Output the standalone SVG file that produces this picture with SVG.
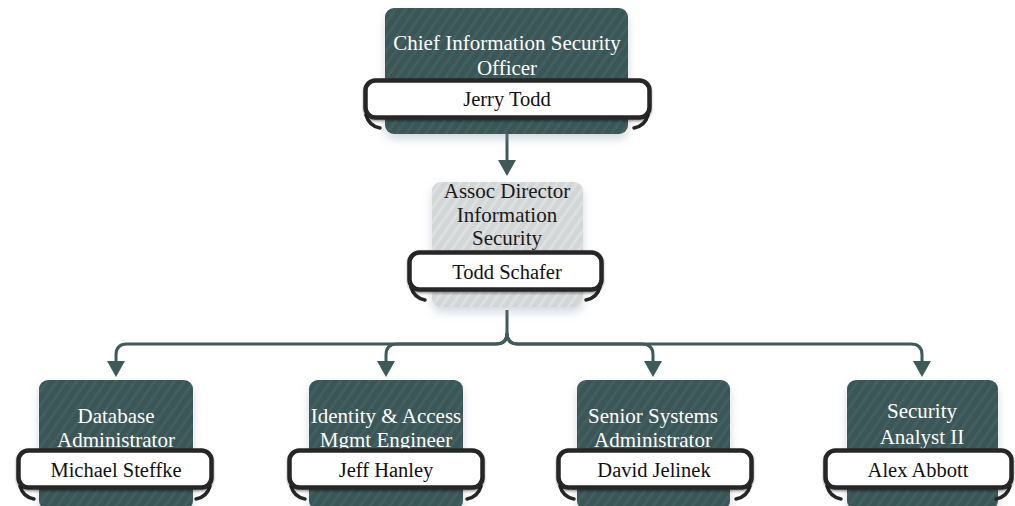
<svg xmlns="http://www.w3.org/2000/svg" width="1015" height="506" viewBox="0 0 1015 506" font-family="'Liberation Serif', 'DejaVu Serif', serif">
<defs>
  <pattern id="hatchDark" patternUnits="userSpaceOnUse" width="8" height="8" patternTransform="rotate(35)">
    <rect width="8" height="8" fill="#3a5656"/>
    <rect width="3" height="8" fill="#425e5e"/>
  </pattern>
  <pattern id="hatchLight" patternUnits="userSpaceOnUse" width="8" height="8" patternTransform="rotate(35)">
    <rect width="8" height="8" fill="#d2d6d6"/>
    <rect width="3" height="8" fill="#dde0e0"/>
  </pattern>
  <filter id="shadow" x="-20%" y="-20%" width="140%" height="150%">
    <feDropShadow dx="0" dy="5" stdDeviation="5" flood-color="#7f8fa6" flood-opacity="0.35"/>
  </filter>
  <filter id="barShadow" x="-5%" y="-20%" width="110%" height="160%">
    <feDropShadow dx="0" dy="1.5" stdDeviation="1.2" flood-color="#000" flood-opacity="0.4"/>
  </filter>
  <marker id="arrow" markerUnits="userSpaceOnUse" viewBox="0 0 16 18" markerWidth="16" markerHeight="18" refX="0" refY="9" orient="auto">
    <path d="M0,0 L16,9 L0,18 z" fill="#3e5a5a"/>
  </marker>
</defs>
<style>
  .box { fill: url(#hatchDark); filter: url(#shadow); }
  .boxLight { fill: url(#hatchLight); filter: url(#shadow); }
  .bar { fill: #ffffff; stroke: #262626; stroke-width: 4.5; filter: url(#barShadow); }
  .curl { fill: none; stroke: #262626; stroke-width: 3.5; stroke-linecap: round; }
  .title { font-family: 'Liberation Serif', 'DejaVu Serif', serif; font-size: 21px; fill: #ffffff; text-anchor: middle; }
  .titleDark { font-family: 'Liberation Serif', 'DejaVu Serif', serif; font-size: 21px; fill: #1a1a1a; text-anchor: middle; }
  .name { font-family: 'Liberation Serif', 'DejaVu Serif', serif; font-size: 20.5px; fill: #111111; text-anchor: middle; }
  .conn { fill: none; stroke: #3e5a5a; stroke-width: 3; }
</style>

<g id="connectors">
  <path class="conn" d="M507 133 V160" marker-end="url(#arrow)"/>
  <path class="conn" d="M507 310 V333 Q507 344 496 344 H127 Q116 344 116 355 V361" marker-end="url(#arrow)"/>
  <path class="conn" d="M507 333 Q507 344 496 344 H397 Q386 344 386 355 V361" marker-end="url(#arrow)"/>
  <path class="conn" d="M507 333 Q507 344 518 344 H642 Q653 344 653 355 V361" marker-end="url(#arrow)"/>
  <path class="conn" d="M507 333 Q507 344 518 344 H911 Q922 344 922 355 V361" marker-end="url(#arrow)"/>
</g>

<g id="node-ciso">
  <rect class="box" x="385" y="8" width="243" height="126" rx="9"/>
  <text class="title" x="507" y="50">Chief Information Security</text>
  <text class="title" x="507" y="75">Officer</text>
  <path class="curl" d="M366 115 Q369 126 380 128 M648 115 Q645 126 634 128"/>
  <rect class="bar" x="365.5" y="80.5" width="284" height="37" rx="10"/>
  <text class="name" x="507" y="106">Jerry Todd</text>
</g>

<g id="node-assoc">
  <rect class="boxLight" x="432" y="182" width="151" height="125" rx="9"/>
  <text class="titleDark" x="507" y="198">Assoc Director</text>
  <text class="titleDark" x="507" y="222">Information</text>
  <text class="titleDark" x="507" y="245">Security</text>
  <path class="curl" d="M411 287 Q414 298 425 300 M600 287 Q597 298 586 300"/>
  <rect class="bar" x="409.5" y="252.5" width="192" height="37" rx="10"/>
  <text class="name" x="507" y="279">Todd Schafer</text>
</g>

<g id="node-dba">
  <rect class="box" x="39" y="380" width="154" height="130" rx="9"/>
  <text class="title" x="116" y="423">Database</text>
  <text class="title" x="116" y="447">Administrator</text>
  <path class="curl" d="M20 486 Q23 497 34 499 M210 486 Q207 497 196 499"/>
  <rect class="bar" x="18.5" y="450.5" width="193" height="37" rx="10"/>
  <text class="name" x="116" y="477">Michael Steffke</text>
</g>

<g id="node-iam">
  <rect class="box" x="309" y="380" width="154" height="130" rx="9"/>
  <text class="title" x="386" y="423">Identity &amp; Access</text>
  <text class="title" x="386" y="447">Mgmt Engineer</text>
  <path class="curl" d="M291 486 Q294 497 305 499 M481 486 Q478 497 467 499"/>
  <rect class="bar" x="289.5" y="450.5" width="193" height="37" rx="10"/>
  <text class="name" x="386" y="477">Jeff Hanley</text>
</g>

<g id="node-ssa">
  <rect class="box" x="577" y="380" width="153" height="130" rx="9"/>
  <text class="title" x="653" y="423">Senior Systems</text>
  <text class="title" x="653" y="447">Administrator</text>
  <path class="curl" d="M560 486 Q563 497 574 499 M750 486 Q747 497 736 499"/>
  <rect class="bar" x="558.5" y="450.5" width="193" height="37" rx="10"/>
  <text class="name" x="654" y="477">David Jelinek</text>
</g>

<g id="node-sa2">
  <rect class="box" x="847" y="380" width="151" height="130" rx="9"/>
  <text class="title" x="922" y="418">Security</text>
  <text class="title" x="922" y="444">Analyst II</text>
  <path class="curl" d="M827 486 Q830 497 841 499 M1010 486 Q1007 497 996 499"/>
  <rect class="bar" x="825.5" y="450.5" width="186" height="37" rx="10"/>
  <text class="name" x="918" y="477">Alex Abbott</text>
</g>
</svg>
